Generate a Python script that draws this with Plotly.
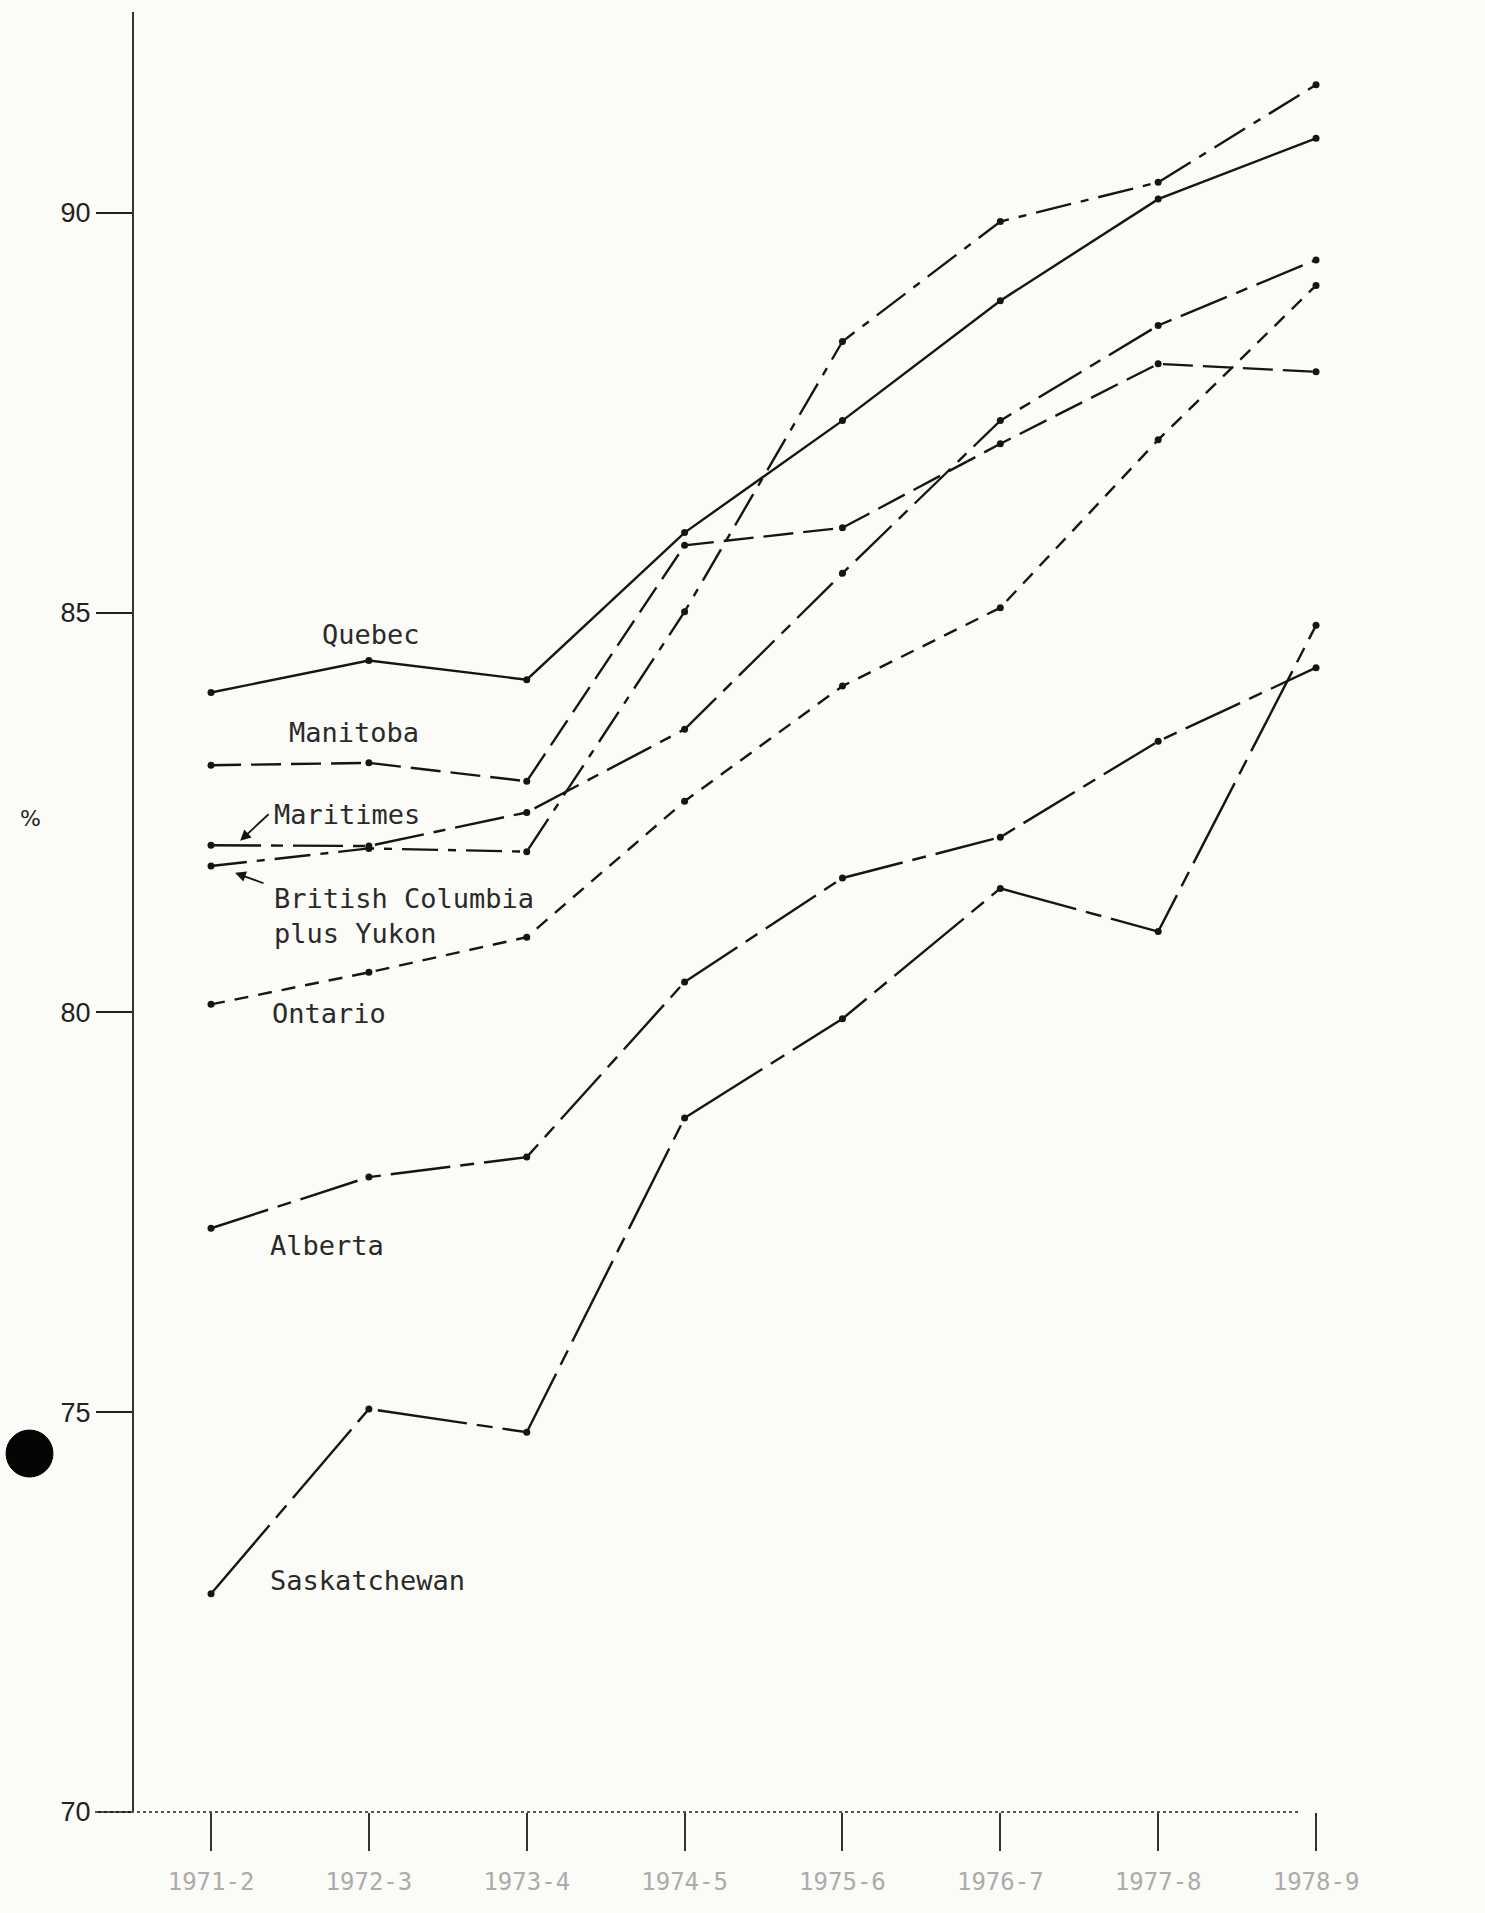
import plotly.graph_objects as go

categories = ["1971-2", "1972-3", "1973-4", "1974-5", "1975-6", "1976-7", "1977-8", "1978-9"]
quebec = [84.0, 84.4, 84.16, 86.0, 87.4, 88.9, 90.17, 90.93]
manitoba = [83.09, 83.12, 82.89, 85.84, 86.06, 87.11, 88.11, 88.01]
maritimes = [82.09, 82.08, 82.5, 83.54, 85.49, 87.4, 88.59, 89.41]
bc_yukon = [81.83, 82.05, 82.01, 85.01, 88.39, 89.89, 90.38, 91.6]
ontario = [80.1, 80.5, 80.94, 82.64, 84.08, 85.06, 87.16, 89.09]
alberta = [77.3, 77.94, 78.19, 80.38, 81.68, 82.19, 83.39, 84.31]
saskatchewan = [72.73, 75.04, 74.75, 78.68, 79.92, 81.55, 81.01, 84.84]
y_ticks = [70, 75, 80, 85, 90]

series = [
    ("Quebec", quebec, "solid"),
    ("Manitoba", manitoba, "30px,10px"),
    ("Maritimes", maritimes, "50px,10px,12px,10px"),
    ("British Columbia plus Yukon", bc_yukon, "36px,10px,8px,10px"),
    ("Ontario", ontario, "14px,10px"),
    ("Alberta", alberta, "60px,10px,14px,10px"),
    ("Saskatchewan", saskatchewan, "90px,10px,16px,10px"),
]

xs = list(range(len(categories)))
ink = "#151515"
bg = "#fbfbf8"

fig = go.Figure()
for name, vals, dash in series:
    fig.add_trace(go.Scatter(
        x=xs, y=vals, mode="lines+markers", name=name,
        line=dict(color=ink, width=2.4, dash=dash),
        marker=dict(color=ink, size=7),
        showlegend=False,
    ))

label_font = dict(family="DejaVu Sans Mono", size=27, color="#2a2a2a")
labels = [
    ("Quebec", 0.69, 84.73),
    ("Manitoba", 0.48, 83.50),
    ("Maritimes", 0.386, 82.47),
    ("British Columbia", 0.386, 81.42),
    ("plus Yukon", 0.386, 80.98),
    ("Ontario", 0.374, 79.99),
    ("Alberta", 0.361, 77.09),
    ("Saskatchewan", 0.361, 72.90),
]
for text, x, y in labels:
    fig.add_annotation(x=x, y=y, xref="x", yref="y", text=text, showarrow=False,
                       xanchor="left", yanchor="middle", font=label_font)

# pointer arrows for Maritimes and British Columbia
fig.add_annotation(x=0.184, y=82.145, xref="x", yref="y", text="", showarrow=True,
                   ax=30, ay=-28, arrowhead=2, arrowsize=1.2, arrowwidth=1.8, arrowcolor=ink)
fig.add_annotation(x=0.152, y=81.745, xref="x", yref="y", text="", showarrow=True,
                   ax=30, ay=11, arrowhead=2, arrowsize=1.2, arrowwidth=1.8, arrowcolor=ink)

# % axis label
fig.add_annotation(x=-0.0875, y=0.552, xref="paper", yref="paper", text="%", showarrow=False,
                   font=dict(family="DejaVu Sans", size=22, color="#222"))

# dotted x-axis baseline
fig.add_shape(type="line", xref="paper", yref="paper", x0=-0.0294, x1=0.879, y0=0, y1=0,
              line=dict(color="#555", width=2, dash="dot"))
# hole punch
fig.add_shape(type="circle", xref="paper", yref="paper", x0=-0.0965, x1=-0.0611,
              y0=0.1861, y1=0.2122, fillcolor="#050505", line=dict(color="#050505", width=1))

fig.update_layout(
    width=1485, height=1913,
    margin=dict(l=134, r=25, t=12, b=101),
    paper_bgcolor=bg, plot_bgcolor=bg,
    xaxis=dict(
        range=[-0.488, 7.912], tickvals=xs, ticktext=categories,
        showgrid=False, zeroline=False, showline=False,
        ticks="outside", ticklen=38, tickwidth=2, tickcolor="#333",
        tickfont=dict(family="DejaVu Sans Mono", size=24, color="#ababab"),
        ticklabelstandoff=10,
    ),
    yaxis=dict(
        range=[70, 92.51], tickvals=y_ticks, ticktext=[str(v) for v in y_ticks],
        showgrid=False, zeroline=False, showline=True, linecolor="#333", linewidth=2,
        ticks="outside", ticklen=36, tickwidth=2, tickcolor="#222",
        tickfont=dict(family="Liberation Sans", size=27, color="#222"),
    ),
)

fig.write_html("out.html", config={"displayModeBar": False},
               post_script="document.body.style.margin='0';")
